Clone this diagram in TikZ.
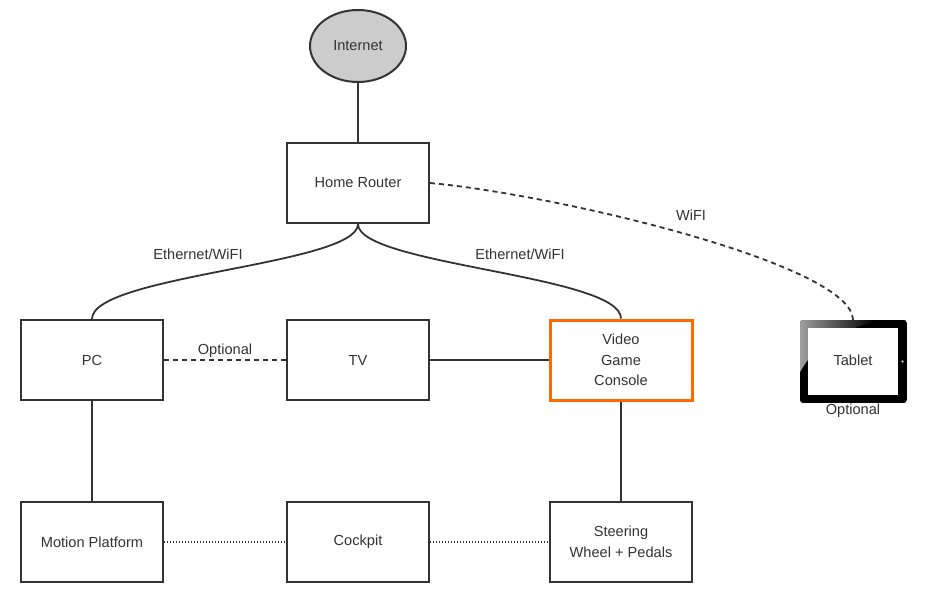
\documentclass[tikz,border=0pt]{standalone}
\usepackage{fontspec}
\setmainfont{Liberation Sans}
\usetikzlibrary{shapes.geometric}
\definecolor{ln}{HTML}{333333}
\definecolor{txt}{HTML}{333333}
\definecolor{orng}{HTML}{FF6A00}
\definecolor{gfill}{HTML}{CCCCCC}
\tikzset{
  boxnode/.style={draw=ln, line width=2pt, minimum width=142pt, minimum height=80pt, inner sep=0pt, align=center, text=txt, font=\fontsize{14.6}{20.5}\selectfont},
  conn/.style={draw=ln, line width=1.8pt},
  dashconn/.style={draw=ln, line width=1.8pt, dash pattern=on 5pt off 4pt},
  dotconn/.style={draw=ln, line width=1.5pt, dash pattern=on 1pt off 2pt},
  lbl/.style={text=txt, font=\fontsize{14.6}{17}\selectfont, inner sep=1pt}
}
\begin{document}
\begin{tikzpicture}[x=1pt,y=-1pt]
\useasboundingbox (0,0) rectangle (944,602);
% nodes
\node[ellipse, draw=ln, fill=gfill, line width=2pt, minimum width=96pt, minimum height=72pt, inner sep=0pt, text=txt, font=\fontsize{14.6}{17}\selectfont] (inet) at (358,46) {Internet};
\node[boxnode] (router) at (358,183) {Home Router};
\node[boxnode] (pc) at (92,360) {PC};
\node[boxnode] (tv) at (358,360) {TV};
\node[boxnode, draw=orng, line width=3pt] (vgc) at (621,360) {Video\\Game\\Console};
\node[boxnode] (motion) at (92,542) {Motion Platform};
\node[boxnode] (cock) at (358,542) {Cockpit};
\node[boxnode] (steer) at (621,542) {Steering\\Wheel + Pedals};
% tablet
\begin{scope}
\clip[rounded corners=3pt] (800,320) rectangle (907,403);
\fill[black] (800,320) rectangle (907,403);
\shade[left color=gray!75, right color=black] (800,320) -- (875,320) -- (875,322) .. controls (840,330) and (815,345) .. (800,372) -- cycle;
\end{scope}
\fill[white] (808,328) rectangle (898,395);
\fill[gray!60] (902.5,361.5) circle (1.3pt);
\node[text=txt, font=\fontsize{14.6}{17}\selectfont, inner sep=0pt] (tablet) at (853,360) {Tablet};
\coordinate (tabtop) at (853,320);
\node[lbl] (tabopt) at (853,411) {Optional};
% connectors
\draw[conn] (inet.south) -- (router.north);
\draw[conn] (router.south) .. controls (358,265) and (92,275) .. (pc.north);
\draw[conn] (router.south) .. controls (358,265) and (621,275) .. (vgc.north);
\draw[dashconn] (router.east) .. controls (560,195) and (853,265) .. (tabtop);
\draw[dashconn] (pc.east) -- (tv.west);
\draw[conn] (tv.east) -- (vgc.west);
\draw[conn] (pc.south) -- (motion.north);
\draw[conn] (vgc.south) -- (steer.north);
\draw[dotconn] (motion.east) -- (cock.west);
\draw[dotconn] (cock.east) -- (steer.west);
% labels
\node[lbl] (l1) at (198,254) {Ethernet/WiFI};
\node[lbl] (l2) at (520,254) {Ethernet/WiFI};
\node[lbl] (l3) at (691,215) {WiFI};
\node[lbl, fill=white, inner sep=0.5pt] (l4) at (225,351) {Optional};
\end{tikzpicture}
\end{document}
